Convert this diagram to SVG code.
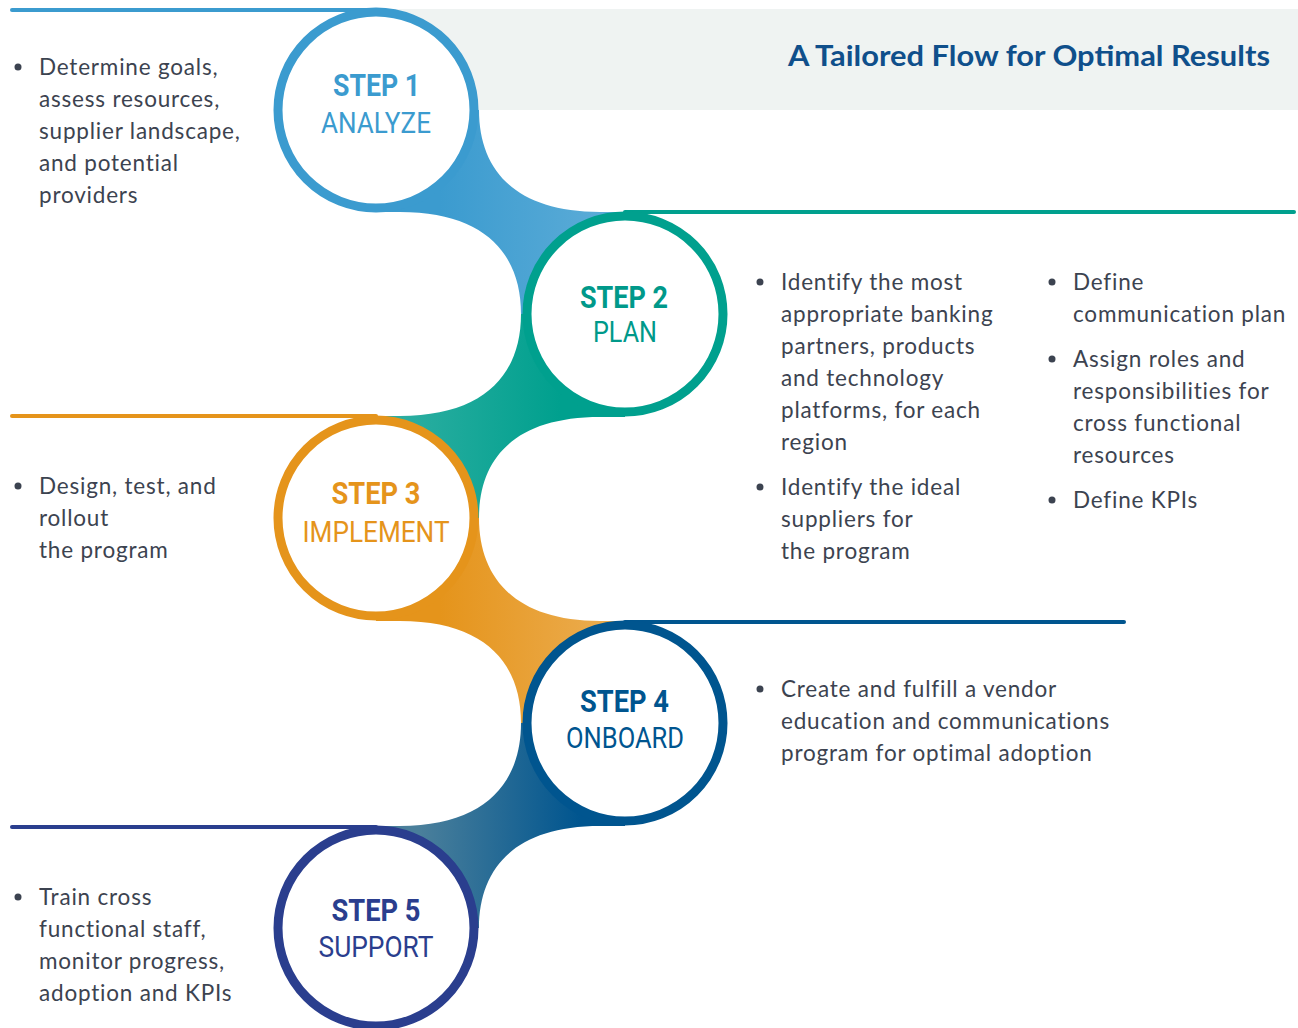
<svg xmlns="http://www.w3.org/2000/svg" width="1298" height="1028" viewBox="0 0 1298 1028">
<style>
.ln{fill:none;stroke-width:4;stroke-linecap:round}
.ring{fill:#fff;stroke-width:9}
.st{font-family:Roboto,"Liberation Sans",sans-serif;font-weight:700;font-size:32px;text-anchor:middle}
.nm{font-family:Roboto,"Liberation Sans",sans-serif;font-weight:400;font-size:30px;text-anchor:middle}
.bt{font-family:Lato,"Liberation Sans",sans-serif;font-size:22.5px;letter-spacing:0.8px;fill:#3c4350}
.bl{fill:#3c4350}
.ttl{font-family:Lato,"Liberation Sans",sans-serif;font-weight:700;font-size:29px;fill:#0f4f8b;text-anchor:end}
</style>
<defs>
<linearGradient id="g1" gradientUnits="userSpaceOnUse" x1="440" y1="0" x2="600" y2="0"><stop offset="0" stop-color="#3b9bcf"/><stop offset="1" stop-color="#5aabd7"/></linearGradient>
<linearGradient id="g2" gradientUnits="userSpaceOnUse" x1="560" y1="0" x2="400" y2="0"><stop offset="0" stop-color="#00a08e"/><stop offset="1" stop-color="#2caea1"/></linearGradient>
<linearGradient id="g3" gradientUnits="userSpaceOnUse" x1="440" y1="0" x2="600" y2="0"><stop offset="0" stop-color="#e5941b"/><stop offset="1" stop-color="#ebab4c"/></linearGradient>
<linearGradient id="g4" gradientUnits="userSpaceOnUse" x1="580" y1="0" x2="420" y2="0"><stop offset="0" stop-color="#00558f"/><stop offset="1" stop-color="#4a7f9b"/></linearGradient>
</defs>
<rect x="376" y="9" width="922" height="101" fill="#eff3f2"/>
<text class="ttl" x="1270" y="66" textLength="482" lengthAdjust="spacingAndGlyphs">A Tailored Flow for Optimal Results</text>
<g id="connectors">
<line class="ln" x1="12" y1="10" x2="376" y2="10" stroke="#3b9bcf"/>
<line class="ln" x1="625" y1="212" x2="1294" y2="212" stroke="#00a08e"/>
<line class="ln" x1="12" y1="416" x2="376" y2="416" stroke="#e5941b"/>
<line class="ln" x1="625" y1="622" x2="1124" y2="622" stroke="#00558f"/>
<line class="ln" x1="12" y1="827" x2="376" y2="827" stroke="#2a3e8e"/>
<path fill="url(#g1)" d="M376,110 L479,110 C479,170 515,212 600,212 L625,212 L625,314 L521,314 C521,254 485,212 400,212 L376,212 Z"/>
<path fill="url(#g2)" d="M625,314 L521,314 C521,374 485,416 400,416 L376,416 L376,518 L479,518 C479,458 515,417 600,417 L625,417 Z"/>
<path fill="url(#g3)" d="M376,518 L479,518 C479,578 515,621 600,621 L625,621 L625,723 L521,723 C521,663 485,621 400,621 L376,621 Z"/>
<path fill="url(#g4)" d="M625,723 L521,723 C521,783 485,826 400,826 L376,826 L376,928 L479,928 C479,868 515,826 600,826 L625,826 Z"/>
</g>
<g id="step1">
<circle class="ring" cx="376" cy="110" r="98" stroke="#3b9bcf"/>
<text class="st" x="376.5" y="96" fill="#3b9bcf" textLength="87" lengthAdjust="spacingAndGlyphs">STEP 1</text>
<text class="nm" x="376" y="133" fill="#3b9bcf" textLength="110" lengthAdjust="spacingAndGlyphs">ANALYZE</text>
<circle class="bl" cx="18" cy="67" r="3.5"/>
<text class="bt"><tspan x="39" y="75">Determine goals,</tspan><tspan x="39" y="107">assess resources,</tspan><tspan x="39" y="139">supplier landscape,</tspan><tspan x="39" y="171">and potential</tspan><tspan x="39" y="203">providers</tspan></text>
</g>
<g id="step2">
<circle class="ring" cx="625" cy="314" r="98" stroke="#00a08e"/>
<text class="st" x="624" y="308" fill="#00998a" textLength="88" lengthAdjust="spacingAndGlyphs">STEP 2</text>
<text class="nm" x="625" y="342" fill="#00998a" textLength="64" lengthAdjust="spacingAndGlyphs">PLAN</text>
<circle class="bl" cx="760" cy="282" r="3.5"/>
<text class="bt"><tspan x="781" y="290">Identify the most</tspan><tspan x="781" y="322">appropriate banking</tspan><tspan x="781" y="354">partners, products</tspan><tspan x="781" y="386">and technology</tspan><tspan x="781" y="418">platforms, for each</tspan><tspan x="781" y="450">region</tspan></text>
<circle class="bl" cx="760" cy="487" r="3.5"/>
<text class="bt"><tspan x="781" y="495">Identify the ideal</tspan><tspan x="781" y="527">suppliers for</tspan><tspan x="781" y="559">the program</tspan></text>
<circle class="bl" cx="1052" cy="282" r="3.5"/>
<text class="bt"><tspan x="1073" y="290">Define</tspan><tspan x="1073" y="322">communication plan</tspan></text>
<circle class="bl" cx="1052" cy="359" r="3.5"/>
<text class="bt"><tspan x="1073" y="367">Assign roles and</tspan><tspan x="1073" y="399">responsibilities for</tspan><tspan x="1073" y="431">cross functional</tspan><tspan x="1073" y="463">resources</tspan></text>
<circle class="bl" cx="1052" cy="500" r="3.5"/>
<text class="bt"><tspan x="1073" y="508">Define KPIs</tspan></text>
</g>
<g id="step3">
<circle class="ring" cx="376" cy="518" r="98" stroke="#e5941b"/>
<text class="st" x="376" y="504" fill="#e5941b" textLength="89" lengthAdjust="spacingAndGlyphs">STEP 3</text>
<text class="nm" x="376" y="542" fill="#e5941b" textLength="147" lengthAdjust="spacingAndGlyphs">IMPLEMENT</text>
<circle class="bl" cx="18" cy="486" r="3.5"/>
<text class="bt"><tspan x="39" y="494">Design, test, and</tspan><tspan x="39" y="526">rollout</tspan><tspan x="39" y="558">the program</tspan></text>
</g>
<g id="step4">
<circle class="ring" cx="625" cy="723" r="98" stroke="#00558f"/>
<text class="st" x="624.5" y="712" fill="#00558f" textLength="89" lengthAdjust="spacingAndGlyphs">STEP 4</text>
<text class="nm" x="625" y="748" fill="#00558f" textLength="118" lengthAdjust="spacingAndGlyphs">ONBOARD</text>
<circle class="bl" cx="760" cy="689" r="3.5"/>
<text class="bt"><tspan x="781" y="697">Create and fulfill a vendor</tspan><tspan x="781" y="729">education and communications</tspan><tspan x="781" y="761">program for optimal adoption</tspan></text>
</g>
<g id="step5">
<circle class="ring" cx="376" cy="928" r="98" stroke="#2a3e8e"/>
<text class="st" x="376" y="921" fill="#2a3e8e" textLength="89" lengthAdjust="spacingAndGlyphs">STEP 5</text>
<text class="nm" x="376" y="957" fill="#2a3e8e" textLength="115" lengthAdjust="spacingAndGlyphs">SUPPORT</text>
<circle class="bl" cx="18" cy="897" r="3.5"/>
<text class="bt"><tspan x="39" y="905">Train cross</tspan><tspan x="39" y="937">functional staff,</tspan><tspan x="39" y="969">monitor progress,</tspan><tspan x="39" y="1001">adoption and KPIs</tspan></text>
</g>
</svg>
